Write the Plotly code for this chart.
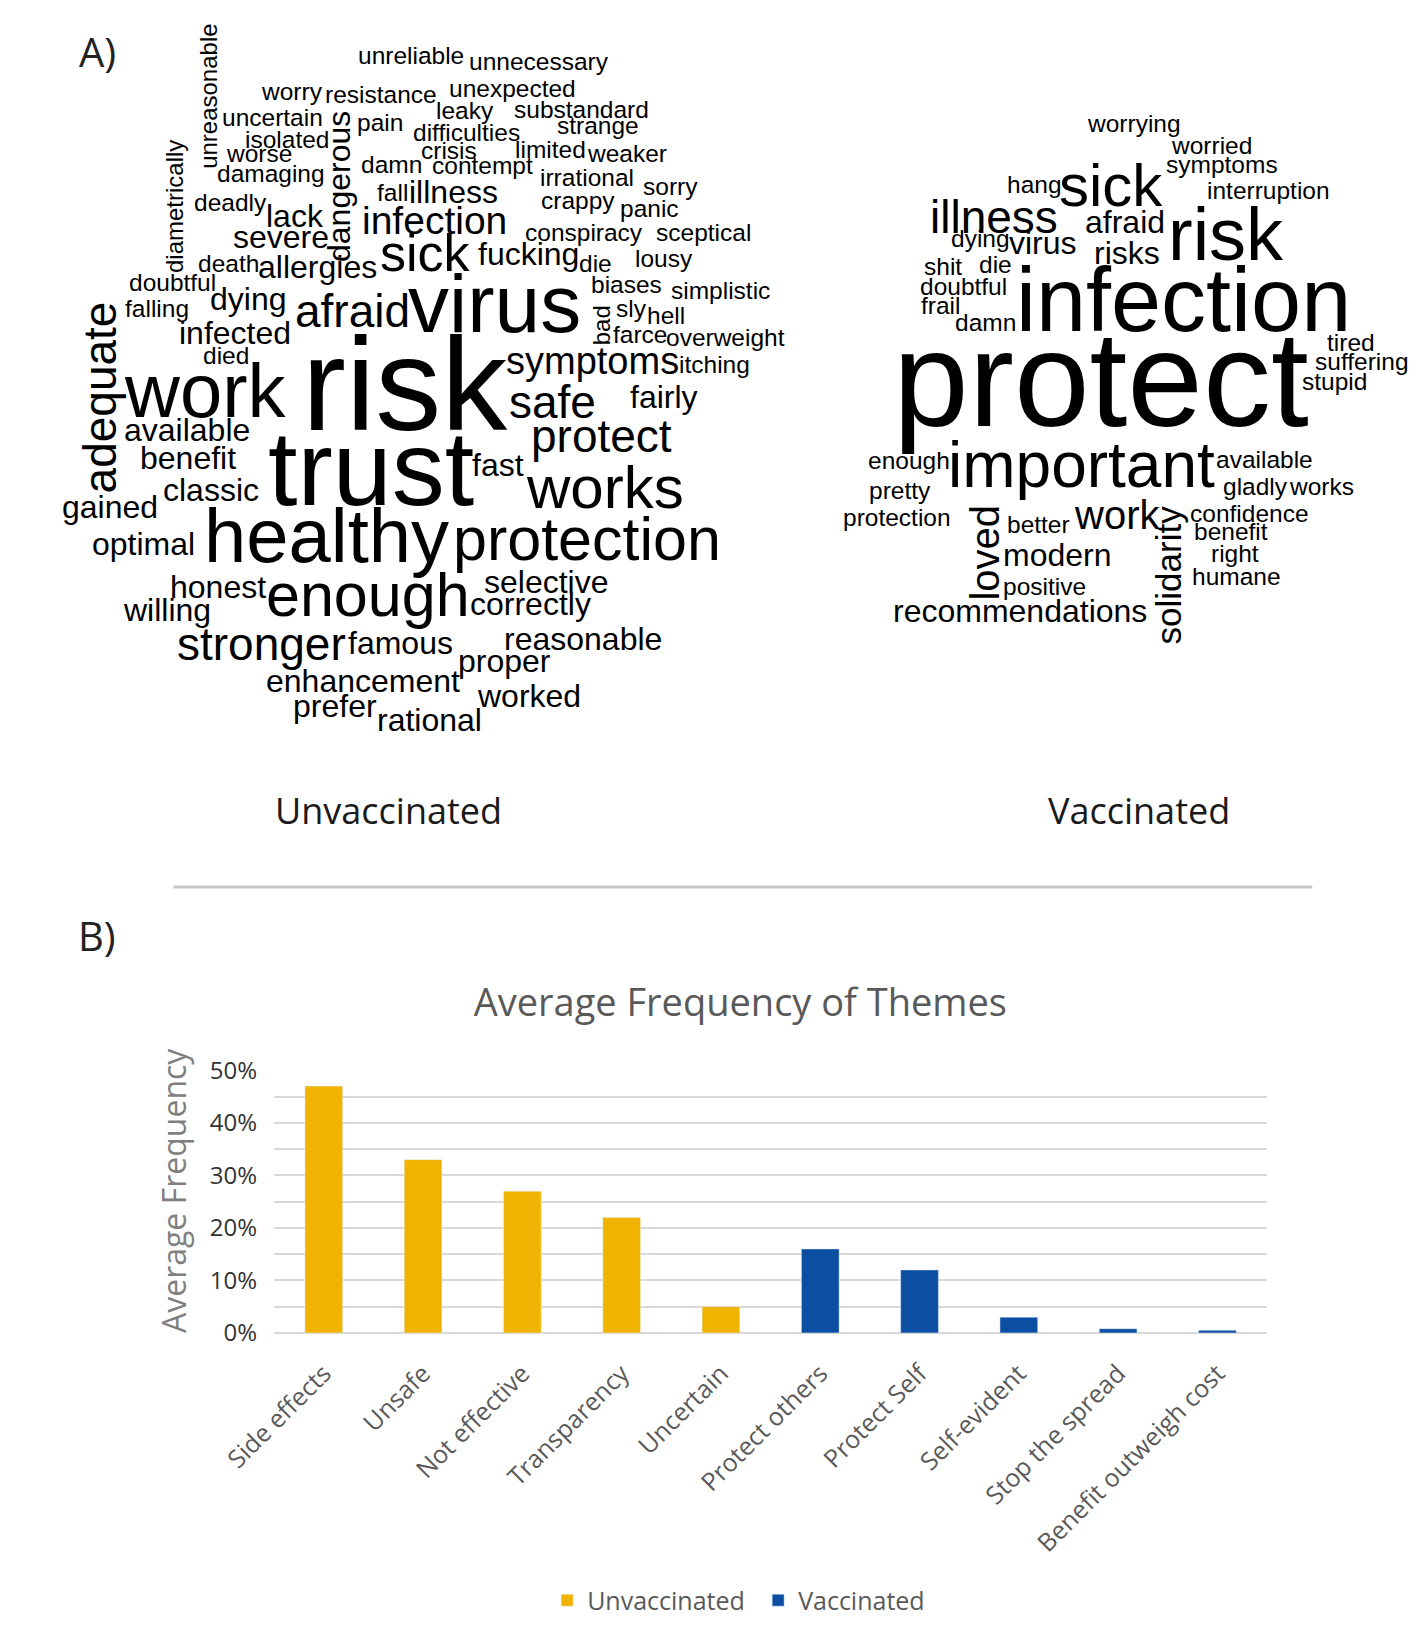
import plotly.graph_objects as go

W, H = 1417, 1637

# ---------------- DATA ----------------
themes = ["Side effects", "Unsafe", "Not effective", "Transparency", "Uncertain",
          "Protect others", "Protect Self", "Self-evident", "Stop the spread",
          "Benefit outweigh cost"]
unvaccinated_freq = [0.47, 0.33, 0.27, 0.22, 0.05, None, None, None, None, None]
vaccinated_freq = [None, None, None, None, None, 0.16, 0.12, 0.03, 0.008, 0.005]
y_tick_vals = [0, 0.1, 0.2, 0.3, 0.4, 0.5]
y_tick_text = ["0%", "10%", "20%", "30%", "40%", "50%"]

unvax_words = ["unreliable", "unnecessary", "unreasonable", "worry", "resistance", "unexpected",
               "leaky", "substandard", "uncertain", "dangerous", "pain", "difficulties", "strange",
               "isolated", "worse", "crisis", "limited", "weaker", "damn", "contempt", "damaging",
               "diametrically", "irrational", "sorry", "fall", "illness", "crappy", "panic", "deadly",
               "lack", "infection", "severe", "conspiracy", "sceptical", "sick", "fucking", "die",
               "lousy", "death", "allergies", "doubtful", "biases", "simplistic", "adequate",
               "falling", "dying", "afraid", "virus", "bad", "sly", "hell", "farce", "overweight",
               "infected", "died", "symptoms", "itching", "work", "risk", "safe", "fairly",
               "available", "protect", "trust", "benefit", "fast", "works", "classic", "gained",
               "healthy", "protection", "optimal", "honest", "enough", "selective", "correctly",
               "willing", "stronger", "famous", "reasonable", "proper", "enhancement", "worked",
               "prefer", "rational"]
# relative word weight (frequency) -> rendered font size
unvax_weight = [24.5, 24.5, 24, 24.5, 24.5, 24.5,
                24.5, 24.5, 24.5, 32, 24.5, 24.5, 24.5,
                24.5, 24.5, 24.5, 24.5, 24.5, 24.5, 24.5, 24.5,
                24, 24.5, 24.5, 24.5, 32, 24.5, 24.5, 24.5,
                32, 39, 32, 24.5, 24.5, 52, 32, 24.5,
                24.5, 24.5, 32, 24.5, 24.5, 24.5, 46,
                24.5, 32, 46, 82, 24, 24.5, 24.5, 24.5, 24.5,
                32, 24.5, 38, 24.5, 76, 132, 46, 32,
                32, 46, 106, 32, 32, 60, 32, 32,
                76, 61, 32, 32, 61, 32, 32,
                32, 46, 32, 32, 32, 32, 32,
                32, 32]

vax_words = ["worrying", "worried", "symptoms", "hang", "sick", "interruption", "illness", "afraid",
             "risk", "dying", "virus", "risks", "shit", "die", "doubtful", "frail", "damn",
             "infection", "tired", "suffering", "stupid", "protect", "enough", "important",
             "available", "pretty", "gladly", "works", "protection", "loved", "better", "work",
             "solidarity", "confidence", "benefit", "modern", "right", "humane", "positive",
             "recommendations"]
vax_weight = [24.5, 24.5, 24.5, 24.5, 60, 24.5, 46, 32,
              74, 24.5, 32, 32, 24.5, 24.5, 24.5, 24.5, 24.5,
              90, 24.5, 24.5, 24.5, 136, 24.5, 64,
              24.5, 24.5, 24.5, 24.5, 24.5, 40, 24.5, 40,
              35, 24.5, 24.5, 32, 24.5, 24.5, 24.5,
              32]

# ---------------- LAYOUT (placement of words, pixels) ----------------
# horizontal words: (center x, baseline y, 0); vertical words: (baseline x, center y, -90)
unvax_place = [(370, 47, 0), (504, 53, 0), (168, 80, -90), (247, 83, 0), (339, 87, 0), (476, 80, 0),
               (427, 103, 0), (548, 102, 0), (226, 110, 0), (306, 172, -90), (338, 115, 0),
               (428, 125, 0), (565, 118, 0),
               (241, 132, 0), (212, 147, 0), (410, 144, 0), (516, 143, 0), (595, 147, 0),
               (350, 158, 0), (445, 159, 0), (225, 167, 0),
               (132, 192, -90), (553, 171, 0), (640, 180, 0), (351, 187, 0), (415, 189, 0),
               (544, 195, 0), (619, 203, 0), (183, 197, 0),
               (250, 213, 0), (395, 220, 0), (235, 235, 0), (550, 227, 0), (675, 227, 0),
               (385, 258, 0), (493, 252, 0), (562, 259, 0),
               (634, 254, 0), (181, 259, 0), (273, 265, 0), (122, 278, 0), (595, 280, 0),
               (692, 287, 0), (63, 387, -90),
               (106, 305, 0), (201, 298, 0), (309, 315, 0), (457, 320, 0), (577, 314, -90),
               (600, 305, 0), (636, 312, 0), (609, 332, 0), (698, 335, 0),
               (187, 333, 0), (178, 353, 0), (559, 363, 0), (686, 362, 0), (156, 407, 0),
               (364, 420, 0), (518, 408, 0), (634, 398, 0),
               (137, 432, 0), (569, 443, 0), (329, 496, 0), (138, 460, 0), (461, 467, 0),
               (572, 500, 0), (162, 493, 0), (57, 510, 0),
               (282, 554, 0), (553, 553, 0), (92, 548, 0), (170, 592, 0), (326, 610, 0),
               (511, 587, 0), (495, 609, 0),
               (117, 615, 0), (215, 655, 0), (359, 649, 0), (549, 645, 0), (468, 667, 0),
               (320, 688, 0), (493, 703, 0),
               (291, 713, 0), (390, 728, 0)]

vax_place = [(1123, 116, 0), (1203, 139, 0), (1214, 158, 0), (1019, 178, 0), (1099, 192, 0),
             (1262, 185, 0), (977, 219, 0), (1113, 219, 0),
             (1218, 247, 0), (963, 234, 0), (1028, 241, 0), (1115, 251, 0), (924, 262, 0),
             (978, 260, 0), (945, 283, 0), (921, 302, 0), (968, 319, 0),
             (1174, 319, 0), (1348, 340, 0), (1360, 359, 0), (1331, 379, 0), (1088, 416, 0),
             (889, 460, 0), (1068, 478, 0),
             (1258, 459, 0), (879, 491, 0), (1249, 487, 0), (1318, 487, 0), (876, 518, 0),
             (981, 546, -90), (1023, 525, 0), (1105, 521, 0),
             (1171, 568, -90), (1243, 514, 0), (1223, 533, 0), (1043, 559, 0), (1228, 555, 0),
             (1229, 578, 0), (1029, 589, 0),
             (1004, 616, 0)]

YELLOW = "#F0B400"
BLUE = "#0B4EA2"
GRAY_TXT = "#595959"
GRID = "#D9D9D9"
CLOUD_FONT = "Liberation Sans, Arial, sans-serif"
UI_FONT = "Open Sans, sans-serif"
ASC = 0.3465  # (ascent - descent)/2 for Arial-metric font


def px(x):
    return x / W


def py(y):
    return 1 - y / H


annotations = []


def add_cloud(words, weights, places):
    for w, s, (ax, ay, ang) in zip(words, weights, places):
        if ang == 0:
            cx, cy = ax, ay - ASC * s
        else:
            cx, cy = ax - ASC * s, ay
        annotations.append(dict(text=w, x=px(cx), y=py(cy), xref="paper", yref="paper",
                                xanchor="center", yanchor="middle", showarrow=False,
                                textangle=ang, borderpad=0, borderwidth=0,
                                font=dict(family=CLOUD_FONT, size=s, color="black")))


add_cloud(unvax_words, unvax_weight, unvax_place)
add_cloud(vax_words, vax_weight, vax_place)


def label(text, cx, cy, size, color, angle=0, family=UI_FONT):
    annotations.append(dict(text=text, x=px(cx), y=py(cy), xref="paper", yref="paper",
                            xanchor="center", yanchor="middle", showarrow=False,
                            textangle=angle, borderpad=0, borderwidth=0,
                            font=dict(family=family, size=size, color=color)))


label("A)", 44, 34, 40, "#222222")
label("B)", 44, 936, 40, "#222222")
label("Unvaccinated", 347, 809, 36, "#1a1a1a")
label("Vaccinated", 1128, 809, 36, "#1a1a1a")
label("Average Frequency", 124, 1197, 32, "#7F7F7F", angle=-90)

fig = go.Figure()
fig.add_bar(x=themes, y=unvaccinated_freq, name="Unvaccinated", marker_color=YELLOW,
            width=0.38, opacity=1)
fig.add_bar(x=themes, y=vaccinated_freq, name="Vaccinated", marker_color=BLUE,
            width=0.38, opacity=1)

fig.update_layout(
    width=W, height=H,
    margin=dict(l=0, r=0, t=0, b=0),
    paper_bgcolor="white", plot_bgcolor="white",
    barmode="overlay",
    showlegend=True,
    legend=dict(orientation="h", x=px(512), xanchor="left", y=py(1615), yanchor="middle",
                entrywidth=166, entrywidthmode="pixels",
                font=dict(family=UI_FONT, size=25, color=GRAY_TXT), bgcolor="rgba(0,0,0,0)"),
    title=dict(text="Average Frequency of Themes", x=px(713), y=py(1005), xanchor="center",
               yanchor="middle", xref="paper", yref="paper",
               font=dict(family=UI_FONT, size=38, color=GRAY_TXT)),
    xaxis=dict(domain=[px(228), px(1261)], tickangle=-45, showgrid=False, ticks="",
               showline=False, zeroline=False, ticklabelstandoff=20,
               tickfont=dict(family=UI_FONT, size=25, color=GRAY_TXT)),
    yaxis=dict(domain=[py(1342), py(1074)], range=[0, 0.5], tickvals=y_tick_vals,
               ticktext=y_tick_text, showgrid=True, gridcolor=GRID, gridwidth=2,
               zeroline=True, zerolinecolor=GRID, zerolinewidth=2, showline=False, ticks="",
               ticklabelstandoff=16,
               minor=dict(dtick=0.05, showgrid=True, gridcolor=GRID, gridwidth=2),
               tickfont=dict(family=UI_FONT, size=24, color="#333333")),
    annotations=annotations,
    shapes=[dict(type="line", xref="paper", yref="paper", x0=px(123), x1=px(1308),
                 y0=py(887), y1=py(887), line=dict(color="#C8C8C8", width=3))],
)

fig.write_html("out.html", config={"displayModeBar": False},
               post_script="document.body.style.margin='0';document.body.style.overflow='hidden';")
